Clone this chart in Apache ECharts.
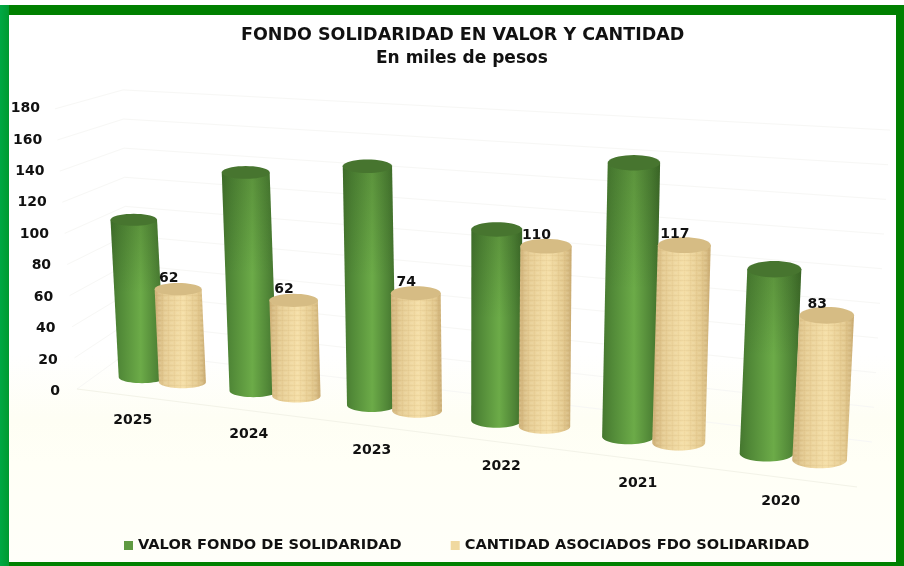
<!DOCTYPE html>
<html><head><meta charset="utf-8">
<style>html,body{margin:0;padding:0;background:#fff}#c{width:904px;height:566px}</style>
<script src="https://cdn.jsdelivr.net/npm/echarts@6/dist/echarts.min.js"></script>
</head><body><div id="c"></div>
<script>
const categories = ['2025','2024','2023','2022','2021','2020'];
const valorFondo = [106,143,152,118,164,107];
const cantidadAsociados = [62,62,74,110,117,83];
const yTicks = [0,20,40,60,80,100,120,140,160,180];
const titleText = 'FONDO SOLIDARIDAD EN VALOR Y CANTIDAD';
const subtitleText = 'En miles de pesos';
const seriesNames = ['VALOR FONDO DE SOLIDARIDAD','CANTIDAD ASOCIADOS FDO SOLIDARIDAD'];

const FONT = '"DejaVu Sans", sans-serif';
const INK = '#111';
const CURVE = 3.37;

function warp(u, sys, B){ return sys.x + u*B + CURVE*u*u; }
function frontY(x, y0){ return y0 - 1 + 0.1256*(x-77); }

const weave = document.createElement('canvas');
weave.width = 6; weave.height = 5;
(function(){
  const g = weave.getContext('2d');
  g.fillStyle = 'rgba(170,125,60,0.08)'; g.fillRect(0,0,6,1);
  g.fillStyle = 'rgba(170,125,60,0.05)'; g.fillRect(0,0,1,5);
  g.fillStyle = 'rgba(255,245,215,0.10)'; g.fillRect(2,2,3,2);
})();

function ellipsePts(cx, cy, rx, ry, a0, a1, n){
  const pts = [];
  for(let k=0;k<=n;k++){ const a=a0+(a1-a0)*k/n; pts.push([cx+rx*Math.cos(a), cy+ry*Math.sin(a)]); }
  return pts;
}
function hGrad(stops){
  return new echarts.graphic.LinearGradient(0,0,1,0,stops.map(s=>({offset:s[0],color:s[1]})));
}
const GREEN = [[0,'#45772f'],[0.18,'#528a38'],[0.55,'#6cab48'],[0.85,'#4f8436'],[1,'#3f6d2a']];
const TAN = [[0,'#cfb27a'],[0.2,'#e6cd95'],[0.55,'#f5dfa8'],[0.85,'#e3c98f'],[1,'#cbae76']];
const SHADE = new echarts.graphic.LinearGradient(0,0,0,1,[
  {offset:0,color:'rgba(35,65,20,0.22)'},{offset:0.45,color:'rgba(35,65,20,0)'},{offset:1,color:'rgba(35,65,20,0)'}]);

function cylinder(offset, bodyStops, capColor, texture, showLabel){
  return function(params, api){
    const i = api.value(0), v = api.value(1);
    const sys = params.coordSys;
    const B = api.size([1,0])[0];
    const p0 = api.coord([i,0]), pv = api.coord([i,v]);
    const u = (p0[0]-sys.x)/B + offset;
    const x = warp(u, sys, B);
    const w = 46.5 + (x-142)*0.012;
    const ry = 6 + (x-142)*0.0035;
    const ratio = (1.5 + (x-183)*0.00038)/((api.coord([0,0])[1]-api.coord([0,180])[1])/180);
    const h = (p0[1]-pv[1])*ratio;
    const by = frontY(x,p0[1]) - 14 - ry;
    const ty = by - h;
    const tx = x + (x-490)*0.00015*h;
    const body = [[tx-w/2,ty],[tx+w/2,ty]].concat(ellipsePts(x,by,w/2,ry,0,Math.PI,24));
    const children = [
      {type:'polygon',shape:{points:body},style:{fill:hGrad(bodyStops)}}
    ];
    children.push({type:'polygon',shape:{points:body},style:{fill:texture?{image:weave,repeat:'repeat'}:SHADE}});
    children.push({type:'polygon',shape:{points:ellipsePts(tx,ty,w/2,ry,0,Math.PI*2,40)},style:{fill:capColor}});
    if(showLabel) children.push({type:'text',style:{text:String(v),x:tx-9.5,y:ty-11,align:'center',verticalAlign:'middle',
      font:'bold 14px '+FONT,fill:INK}});
    return {type:'group',children};
  };
}

function wallLine(params, api){
  const v = api.value(0);
  const y0 = api.coord([0,0])[1], hpx = y0-api.coord([0,v])[1], unit=(y0-api.coord([0,180])[1])/180;
  const k = v/180;
  const pts = [
    [77-22*k, y0-1-hpx*0.99],
    [128-5*k, 352-hpx*(1.456/unit)],
    [872+18*k, 442-hpx*(1.733/unit)]
  ];
  const kids = [{type:'polyline',shape:{points:pts},style:{fill:null,stroke:'#f7f7f5',lineWidth:1}}];
  if(v===0){
    kids.push({type:'polyline',shape:{points:[[77,y0-1],[857,frontY(857,y0)]]},style:{fill:null,stroke:'#f3f3e8',lineWidth:1}});
  }
  return {type:'group',children:kids};
}

const labelBase = {fontFamily:FONT,fontWeight:'bold',fontSize:14,color:INK};
const xLabelStyles = {};
const bandW = 106, gridLeft = 108.8;
categories.forEach((c,i)=>{
  const u=i+0.5, plain=gridLeft+u*bandW, warped=plain+CURVE*u*u;
  const tx=warped-30+i*3.4, d=tx-plain, top=frontY(tx,390)+24-390-7;
  xLabelStyles['c'+i]=Object.assign({},labelBase,{padding:[top,d<0?-2*d:0,0,d>0?2*d:0]});
});
const yLabelStyles = {};
yTicks.forEach(t=>{ yLabelStyles['t'+t]=Object.assign({},labelBase,{padding:[3,t/9,0,0]}); });

const chart = echarts.init(document.getElementById('c'),null,{renderer:'canvas'});
chart.setOption({
  animation:false,
  backgroundColor:'#ffffff',
  graphic:{elements:[
    {type:'rect',z:-10,shape:{x:9,y:15,width:887,height:547},style:{fill:new echarts.graphic.LinearGradient(0,0,0,1,[
      {offset:0,color:'#ffffff'},{offset:0.62,color:'#ffffff'},{offset:0.74,color:'#fefef4'},{offset:0.82,color:'#fffff6'},{offset:1,color:'#fffff9'}])}},
    {type:'rect',z:-9,shape:{x:0,y:5,width:904,height:10},style:{fill:'#008000'}},
    {type:'rect',z:-9,shape:{x:0,y:562,width:904,height:4},style:{fill:'#008000'}},
    {type:'rect',z:-8,shape:{x:0,y:5,width:9,height:561},style:{fill:new echarts.graphic.LinearGradient(0,0,1,0,[{offset:0,color:'#00a844'},{offset:1,color:'#009a30'}])}},
    {type:'rect',z:-8,shape:{x:896,y:5,width:8,height:561},style:{fill:'#008000'}}
  ]},
  title:[
    {text:titleText,left:241,top:26,padding:0,textStyle:{fontFamily:FONT,fontWeight:'bold',fontSize:17.5,color:INK}},
    {text:subtitleText,left:376,top:50,padding:0,textStyle:{fontFamily:FONT,fontWeight:'bold',fontSize:17,color:INK}}
  ],
  legend:{
    left:124,top:538,itemWidth:9,itemHeight:9,itemGap:49,icon:'rect',padding:0,
    data:seriesNames,
    textStyle:{fontFamily:FONT,fontWeight:'bold',fontSize:14.6,color:INK}
  },
  grid:{left:gridLeft,top:107,width:bandW*6,height:283},
  xAxis:{type:'category',data:categories,position:'bottom',
    axisLine:{show:false},axisTick:{show:false},splitLine:{show:false},
    axisLabel:{show:true,interval:0,margin:0,rich:xLabelStyles,
      formatter:(val,idx)=>'{c'+idx+'|'+val+'}'}},
  yAxis:{type:'value',min:0,max:180,interval:20,
    axisLine:{show:false},axisTick:{show:false},splitLine:{show:false},
    axisLabel:{margin:48.8,rich:yLabelStyles,formatter:val=>'{t'+val+'|'+val+'}'}},
  series:[
    {type:'custom',silent:true,z:1,renderItem:wallLine,data:yTicks.map(t=>[t]),encode:{y:0},clip:false},
    {type:'custom',name:seriesNames[0],z:2,clip:false,itemStyle:{color:'#5f9a41'},
      renderItem:cylinder(-0.19,GREEN,'#47752f',false,false),
      data:categories.map((c,i)=>[i,valorFondo[i]]),encode:{x:0,y:1}},
    {type:'custom',name:seriesNames[1],z:3,clip:false,itemStyle:{color:'#f0d9a0'},
      renderItem:cylinder(0.18,TAN,'#d6bc84',true,true),
      data:categories.map((c,i)=>[i,cantidadAsociados[i]]),encode:{x:0,y:1}}
  ]
});
</script></body></html>
